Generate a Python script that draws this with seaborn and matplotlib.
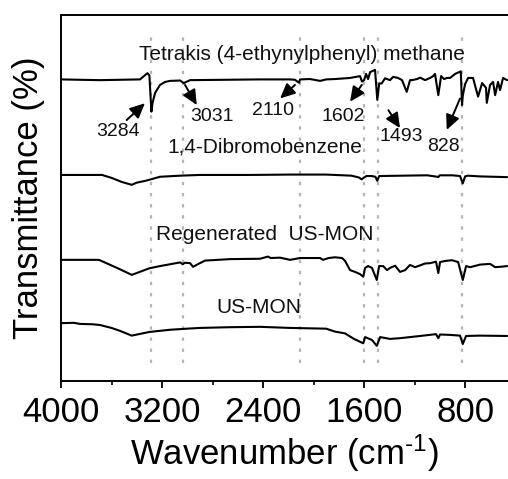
import matplotlib
matplotlib.use("Agg")
import matplotlib.pyplot as plt
import seaborn as sns
import numpy as np
import pandas as pd

# ---------------- data ----------------
tetrakis_wn = [4000, 3850, 3691, 3533, 3374, 3316, 3300, 3284, 3275, 3255, 3216, 3176,
               3137, 3057, 3028, 2978, 2700, 2424, 2186, 2147, 2115, 2107, 2028, 1948,
               1900, 1830, 1711, 1632, 1616, 1600, 1584, 1568, 1552, 1513, 1495, 1480,
               1460, 1434, 1394, 1370, 1331, 1299, 1262, 1236, 1220, 1180, 1156, 1117,
               1077, 1053, 1038, 1012, 990, 966, 943, 919, 879, 847, 834, 824, 818, 800,
               776, 737, 697, 665, 634, 628, 602, 578, 562, 539, 523, 499, 467]
tetrakis_t = [82.4, 82.3, 82.2, 82.3, 82.4, 84.1, 83.5, 73.6, 76.0, 78.7, 80.9, 81.7,
              82.0, 82.1, 81.4, 82.2, 82.3, 82.4, 82.4, 82.3, 81.5, 82.4, 82.5, 82.0,
              82.4, 82.5, 82.8, 83.3, 81.8, 82.2, 83.9, 82.5, 84.4, 85.0, 76.8, 81.3,
              81.3, 82.7, 82.2, 83.1, 82.8, 82.2, 79.0, 82.2, 82.2, 82.5, 82.9, 82.2,
              82.8, 83.3, 83.9, 78.1, 83.3, 82.5, 82.8, 82.8, 83.9, 84.4, 84.6, 75.4, 78.0,
              81.1, 82.8, 82.8, 77.7, 81.4, 80.1, 76.0, 80.9, 81.7, 78.1, 81.7, 79.5, 82.8, 82.2]

dibromo_wn = [4000, 3675, 3600, 3520, 3440, 3400, 3330, 3216, 3057, 2900, 2500, 2186,
              1900, 1830, 1700, 1640, 1620, 1600, 1580, 1540, 1510, 1495, 1480, 1300,
              1100, 1020, 1012, 1000, 900, 840, 818, 800, 780, 681, 467]
dibromo_t = [56.3, 56.3, 55.5, 54.4, 53.6, 54.2, 54.7, 55.8, 56.1, 56.3, 56.3, 56.4,
             56.4, 56.3, 56.1, 55.6, 55.1, 55.6, 56.0, 56.0, 55.8, 54.7, 56.0, 56.1,
             56.2, 55.8, 55.7, 56.2, 56.2, 56.0, 54.0, 55.9, 56.1, 55.9, 55.7]

regen_wn = [4000, 3850, 3700, 3660, 3550, 3440, 3400, 3300, 3216, 3137, 3057, 3035,
            3020, 2978, 2954, 2900, 2859, 2661, 2424, 2360, 2340, 2265, 2186, 2107,
            1948, 1925, 1880, 1830, 1774, 1750, 1711, 1671, 1632, 1606, 1592, 1568,
            1537, 1499, 1481, 1449, 1418, 1394, 1354, 1315, 1275, 1236, 1196, 1156,
            1117, 1077, 1030, 1012, 998, 958, 903, 855, 818, 792, 760, 681, 602, 562,
            523, 467]
regen_t = [33.1, 33.1, 33.1, 32.5, 30.8, 29.0, 29.5, 30.8, 31.4, 31.9, 32.4, 31.9,
           32.3, 32.2, 31.2, 32.2, 32.9, 33.3, 33.4, 34.0, 33.6, 33.7, 33.1, 33.6,
           33.6, 33.1, 33.6, 33.8, 33.6, 32.8, 30.3, 29.8, 29.2, 28.5, 30.9, 31.4,
           30.9, 27.6, 31.4, 31.4, 30.3, 30.9, 31.5, 29.8, 30.3, 31.7, 31.1, 31.6,
           32.1, 32.2, 32.6, 29.5, 32.5, 32.8, 33.0, 32.5, 27.6, 31.4, 31.1, 31.8,
           32.0, 31.1, 31.2, 31.4]

usmon_wn = [4000, 3900, 3850, 3750, 3691, 3600, 3533, 3440, 3300, 3137, 3000, 2900,
            2661, 2424, 2186, 1900, 1830, 1750, 1680, 1606, 1592, 1537, 1499, 1473,
            1394, 1315, 1156, 1030, 1012, 998, 919, 840, 818, 792, 681, 467]
usmon_t = [15.8, 15.9, 15.6, 15.5, 15.3, 14.5, 13.7, 12.4, 13.4, 14.0, 14.3, 14.5,
           14.7, 14.8, 14.5, 14.3, 13.5, 13.0, 11.5, 10.3, 12.0, 11.2, 9.6, 12.0,
           11.5, 11.7, 12.3, 12.8, 11.7, 12.7, 12.6, 12.4, 10.1, 12.3, 12.4, 12.3]

peak_positions = [3284, 3031, 2110, 1602, 1493, 828]
peak_labels = ["3284", "3031", "2110", "1602", "1493", "828"]
# label centre (wn, t) and arrow tail / head (wn, t)
peak_text_xy = [(3549, 68.3), (2806, 72.2), (2318, 74.0), (1764, 72.2), (1307, 66.9), (974, 64.2)]
peak_arrow_tail = [(3480, 71.3), (3018, 80.9), (2147, 80.9), (1618, 80.9), (1407, 74.0), (840, 77.2)]
peak_arrow_head = [(3335, 75.9), (2925, 75.4), (2265, 77.2), (1711, 76.3), (1315, 69.1), (945, 68.6)]

series_names = ["Tetrakis (4-ethynylphenyl) methane", "1,4-Dibromobenzene",
                "Regenerated  US-MON", "US-MON"]
series_label_xy = [(2091, 89.1), (2384, 63.9), (2384, 39.9), (2432, 20.2)]

x_ticks = [4000, 3200, 2400, 1600, 800]
x_minor = [3600, 2800, 2000, 1200]

# ---------------- plotting ----------------
sns.set_theme(style="ticks")
plt.rcParams["font.family"] = ["Liberation Sans", "DejaVu Sans"]
plt.rcParams["mathtext.fontset"] = "custom"
plt.rcParams["mathtext.rm"] = "Liberation Sans"
plt.rcParams["mathtext.it"] = "Liberation Sans"
plt.rcParams["mathtext.default"] = "regular"
plt.rcParams["text.color"] = "black"
plt.rcParams["axes.labelcolor"] = "black"
plt.rcParams["xtick.color"] = "black"

fig = plt.figure(figsize=(5.08, 4.79), dpi=100)
ax = fig.add_axes([61 / 508, 1 - 381 / 479, (508 - 61) / 508, 366 / 479])

for px in peak_positions:
    ax.axvline(px, ymin=0.05, ymax=0.955, color="#b4b4b4", lw=1.6,
               linestyle=(0, (1.5, 3.5)), zorder=1)

for wn, t in [(tetrakis_wn, tetrakis_t), (dibromo_wn, dibromo_t),
              (regen_wn, regen_t), (usmon_wn, usmon_t)]:
    df = pd.DataFrame({"wn": wn, "t": t})
    sns.lineplot(data=df, x="wn", y="t", color="black", lw=1.5, ax=ax,
                 estimator=None, sort=False, zorder=3)

for name, (x, y) in zip(series_names, series_label_xy):
    ax.text(x, y, name, ha="center", va="center", fontsize=15, color="#111111")

for lab, (tx, ty), tail, head in zip(peak_labels, peak_text_xy, peak_arrow_tail, peak_arrow_head):
    ax.text(tx, ty, lab, ha="center", va="center", fontsize=14, color="#111111")
    ax.annotate("", xy=head, xytext=tail,
                arrowprops=dict(arrowstyle="-|>,head_length=0.75,head_width=0.35",
                                color="black", lw=1.4, shrinkA=0, shrinkB=0))

ax.set_xlim(4000, 460)
ax.set_ylim(0, 100)
ax.set_xticks(x_ticks)
ax.set_xticks(x_minor, minor=True)
ax.set_xticklabels([str(v) for v in x_ticks])
ax.set_yticks([])
ax.tick_params(axis="x", which="major", direction="out", length=5, width=1.3,
               labelsize=25, pad=6, colors="black")
ax.tick_params(axis="x", which="minor", direction="out", length=3, width=1.2,
               colors="black")
for s in ["left", "bottom", "top"]:
    ax.spines[s].set_linewidth(1.4)
    ax.spines[s].set_color("black")
ax.spines["right"].set_visible(False)

ax.set_xlabel(r"Wavenumber (cm$^{\text{-}1}$)", fontsize=25, labelpad=2, color="black")
ax.set_ylabel("Transmittance (%)", fontsize=25, color="black")
ax.yaxis.set_label_coords(-0.035, 0.5)

fig.savefig("out.png", dpi=100)
